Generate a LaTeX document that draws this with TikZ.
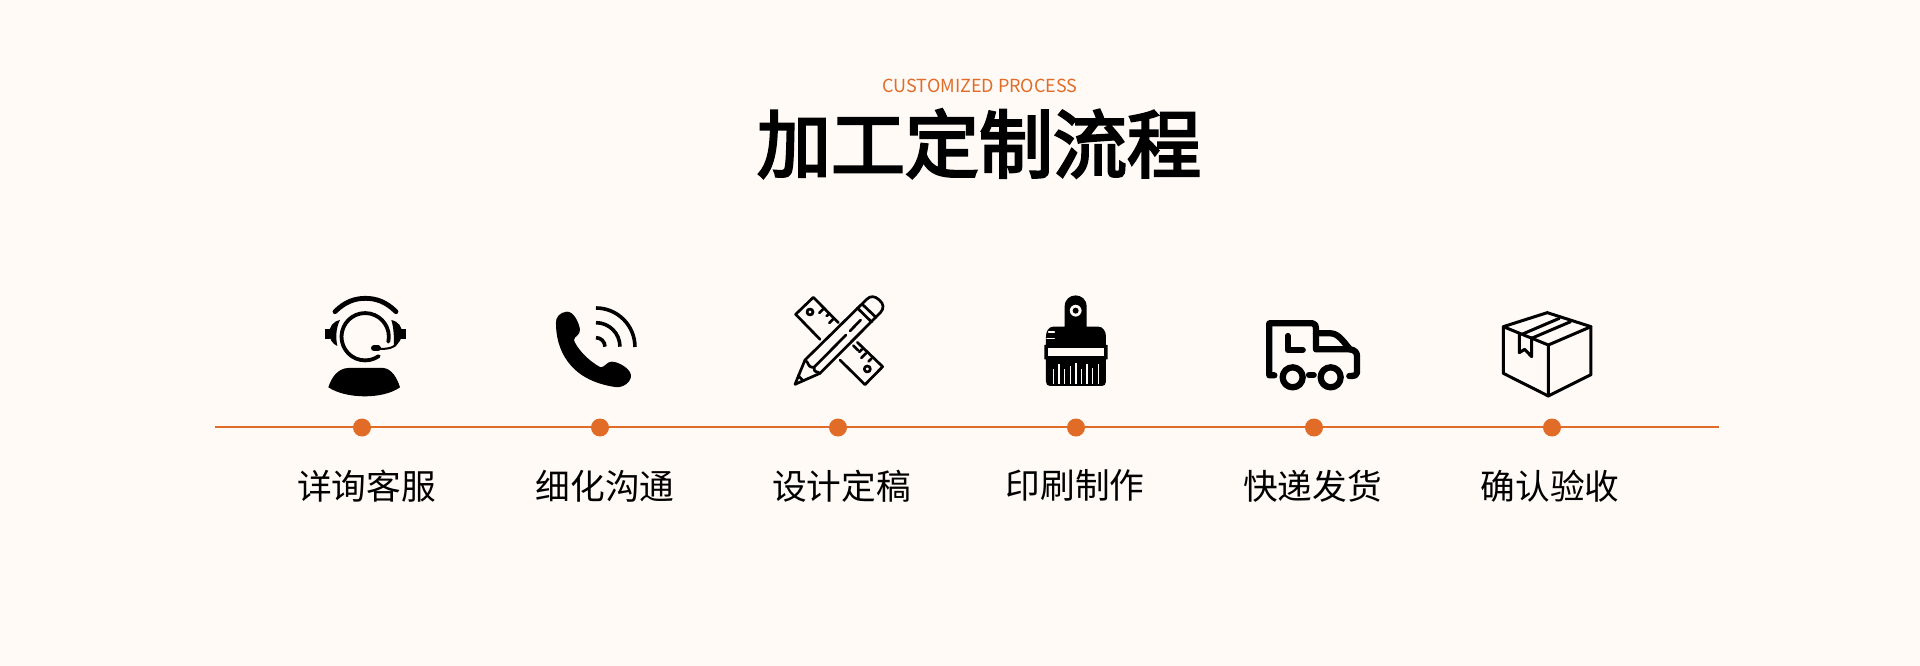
\documentclass[tikz,border=0pt]{standalone}
\usepackage{fontspec}
\newfontfamily\cjk{Noto Sans CJK SC}
\newfontfamily\cjktitle[FakeBold=3.5]{Noto Sans CJK SC}
\usetikzlibrary{positioning}
\definecolor{pagebg}{HTML}{FFFAF6}
\definecolor{accent}{HTML}{E06C28}
\tikzset{
  stepdot/.style={circle,fill=accent,inner sep=0pt,minimum size=18pt},
  steplabel/.style={font=\cjk\fontsize{34.7}{35}\selectfont,text=black,inner sep=0pt},
  zoomed/.style={x=.3333pt,y=-.3333pt},
  iconline/.style={draw=black,line width=#1,line cap=round,line join=round},
  iconline/.default=3pt,
}
\begin{document}
\begin{tikzpicture}[x=1pt,y=-1pt]
  \useasboundingbox[fill=pagebg] (0,0) rectangle (1920,666);
  \node (subtitle) at (980,86) [font=\cjk\fontsize{18}{18}\selectfont,text=accent,inner sep=0pt] {CUSTOMIZED PROCESS};
  \node (title) [below=16pt of subtitle,font=\cjktitle\fontsize{74}{74}\selectfont,inner sep=0pt,xshift=-1pt] {加工定制流程};

  \coordinate (lineL) at (215,427);
  \coordinate (lineR) at (1719,427);
  \draw[accent,line width=2pt] (lineL) -- (lineR);
  \foreach \i/\off/\txt in {1/4.5/详询客服,2/5/细化沟通,3/3.5/设计定稿,4/-1/印刷制作,5/-1.5/快递发货,6/-2/确认验收} {
    \node (dot\i) [stepdot] at ({362+238*(\i-1)},427.5) {};
    \node (label\i) [steplabel,below=33pt of dot\i,xshift=\off pt] {\txt};
  }

  % headset and phone
  \begin{scope}[shift={(290,280)},zoomed]
    \draw[iconline=4.8pt] (135,95) .. controls (165,65) and (195,55) .. (226,55) .. controls (258,55) and (288,65) .. (318,95);
    \draw[iconline=3.8pt] (295,185) arc[start angle=12,end angle=-305,radius=71];
    \fill (150,120) .. controls (128,125) and (118,140) .. (118,160) .. controls (118,178) and (128,192) .. (142,198) .. controls (137,175) and (137,145) .. (150,120) -- cycle;
    \fill (105,146) -- (120,146) -- (120,178) -- (105,178) -- cycle;
    \fill (304,120) .. controls (326,125) and (336,140) .. (336,160) .. controls (336,178) and (326,192) .. (312,198) .. controls (312,175) and (312,145) .. (304,120) -- cycle;
    \fill (334,146) -- (349,146) -- (349,178) -- (334,178) -- cycle;
    \draw[iconline=2pt] (322,188) .. controls (315,203) and (295,207) .. (268,207);
    \draw[iconline=6pt] (252,205) -- (264,205);
    \fill (115,322) .. controls (125,290) and (145,265) .. (175,264) -- (280,264) .. controls (305,266) and (322,295) .. (330,322) .. controls (280,358) and (170,358) .. (115,322) -- cycle;
    \fill (830,95) .. controls (810,97) and (796,112) .. (798,130) .. controls (798,205) and (835,300) .. (975,321) .. controls (1000,325) and (1025,305) .. (1023,285) .. controls (1020,265) and (985,245) .. (965,245) .. controls (950,245) and (945,262) .. (932,262) .. controls (890,240) and (858,200) .. (852,180) .. controls (852,170) and (872,165) .. (870,148) .. controls (866,125) and (850,93) .. (830,95) -- cycle;
    \draw[iconline=3.6pt,line cap=butt] (918,84) arc[start angle=-90,end angle=0,radius=117];
    \draw[iconline=3.6pt,line cap=butt] (918,128) arc[start angle=-90,end angle=0,radius=72];
    \draw[iconline=3.6pt,line cap=butt] (918,173) arc[start angle=-90,end angle=0,radius=27];
  \end{scope}

  % ruler with pencil and brush
  \begin{scope}[shift={(770,280)},zoomed]
    \draw[iconline=2.7pt] (150,178) -- (77,103) -- (130,52) -- (205,128);
    \draw[iconline=2.7pt] (210,240) -- (285,314) -- (338,260) -- (262,187);
    \draw[iconline=2.7pt] (120,96) circle[radius=9];
    \draw[iconline=2.7pt] (292,267) circle[radius=9];
    \draw[iconline=2.7pt] (162,85) -- (148,99) (178,100) -- (170,108) (192,115) -- (178,129);
    \draw[iconline=2.7pt] (250,197) -- (264,211) (276,208) -- (268,216) (288,220) -- (274,234) (304,236) -- (296,244);
    \draw[iconline=2.7pt] (75,313) -- (105,240) -- (290,58) .. controls (302,46) and (315,48) .. (328,60) .. controls (342,72) and (342,85) .. (332,97) -- (150,280) -- cycle;
    \draw[iconline=2.7pt] (105,240) .. controls (120,250) and (110,262) .. (132,262) .. controls (132,280) and (140,272) .. (150,280);
    \draw[iconline=2.7pt] (85,287) -- (100,303);
    \draw[iconline=2.7pt] (132,262) -- (228,165) (240,153) -- (272,120);
    \draw[iconline=2.7pt] (262,84) -- (305,126) (276,72) -- (318,112);
    \fill[even odd rule] (884,140) -- (884,80) .. controls (884,35) and (950,35) .. (950,80) -- (950,140) -- (985,140) .. controls (1000,140) and (1008,155) .. (1008,170) -- (1008,195) -- (1013,195) -- (1013,238) -- (1008,238) -- (1008,305) .. controls (1008,313) and (1003,318) .. (996,318) -- (840,318) .. controls (833,318) and (828,313) .. (828,305) -- (828,238) -- (823,238) -- (823,195) -- (828,195) -- (828,170) .. controls (828,155) and (835,140) .. (850,140) -- cycle
      (917,92) circle[radius=18];
    \fill (917,92) circle[radius=9];
    \fill[pagebg] (833,204) rectangle (1003,229);
    \draw[pagebg,line width=1.6pt,line cap=round] (836,156) -- (853,156) (831,175) -- (853,175);
    \foreach \sx/\sy in {851/268,867/252,884/268,901/258,918/250,935/268,951/252,968/264,985/252} {
      \draw[pagebg,line width=1.5pt] (\sx,\sy) -- (\sx,312);
    }
  \end{scope}

  % truck and box
  \begin{scope}[shift={(1240,290)},zoomed]
    \draw[iconline=6.3pt] (103,256) -- (88,256) -- (88,100) -- (218,100) .. controls (226,100) and (228,108) .. (228,116) -- (228,178) -- (330,178);
    \draw[iconline=6.3pt] (228,130) -- (272,130) .. controls (295,130) and (310,155) .. (330,178) .. controls (345,180) and (351,188) .. (351,198) -- (351,248) .. controls (351,256) and (345,258) .. (328,258);
    \draw[iconline=6.3pt] (158,262) circle[radius=30];
    \draw[iconline=6.3pt] (272,262) circle[radius=30];
    \draw[iconline=6.3pt] (207,255) -- (221,255);
    \draw[iconline=6.3pt] (143,138) -- (143,180) -- (188,180);
    \draw[iconline=3pt] (922,68) -- (1053,110) -- (1053,254) -- (925,318) -- (790,250) -- (790,110) -- cycle;
    \draw[iconline=3pt] (790,110) -- (925,165) -- (1053,110) (925,165) -- (925,318);
    \draw[iconline=3pt] (848,132) -- (958,85) (877,144) -- (992,95);
    \draw[iconline=3pt] (838,130) -- (838,188) -- (854,178) -- (875,200) -- (875,143);
  \end{scope}
\end{tikzpicture}
\end{document}
